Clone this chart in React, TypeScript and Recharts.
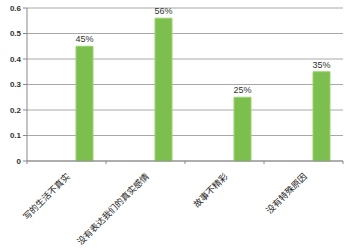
import React from 'react';
import { BarChart, Bar, XAxis, YAxis, CartesianGrid, LabelList } from 'recharts';

const categories = ['写的生活不真实', '没有表达我们的真实感情', '故事不精彩', '没有特殊原因'];
const values = [0.45, 0.56, 0.25, 0.35];
const yTicks = [0, 0.1, 0.2, 0.3, 0.4, 0.5, 0.6];

const data = categories.map((name, i) => ({ name, value: values[i] }));

const XTick = (props: any) => {
  const { x, y, payload, index, width } = props;
  const band = (typeof width === 'number' && width > 0 ? width : 316) / categories.length;
  const axisY = y - 5;
  const isLast = index === categories.length - 1;
  return (
    <g>
      <line x1={x - band / 2} x2={x - band / 2} y1={axisY} y2={axisY + 3} stroke="#888" />
      {isLast && <line x1={x + band / 2} x2={x + band / 2} y1={axisY} y2={axisY + 3} stroke="#888" />}
      <g transform={`translate(${x - 1},${y + 6})`}>
        <text
          x={0}
          y={0}
          dy={7}
          textAnchor="end"
          transform="rotate(-45)"
          fontSize={8.8}
          fontFamily="'Noto Sans CJK SC', sans-serif"
          fill="#222"
        >
          {payload.value}
        </text>
      </g>
    </g>
  );
};

export default function App() {
  return (
    <div style={{ position: 'absolute', left: 0, top: 0, width: 350, height: 250, background: '#fff' }}>
      <BarChart
        width={350}
        height={250}
        data={data}
        margin={{ top: 8, right: 7, left: 0, bottom: 0 }}
        barGap={1}
        barSize={17}
      >
        <CartesianGrid vertical={false} stroke="#a8a8a8" strokeWidth={1} />
        <XAxis
          dataKey="name"
          height={89}
          interval={0}
          tick={<XTick />}
          axisLine={{ stroke: '#888' }}
          tickLine={false}
          tickSize={3}
          scale="band"
        />
        <YAxis
          width={27}
          domain={[0, 0.6]}
          ticks={yTicks}
          interval={0}
          axisLine={{ stroke: '#888' }}
          tickLine={{ stroke: '#888' }}
          tickSize={4}
          tick={{ fontSize: 8, fontWeight: 'bold', fill: '#333', fontFamily: 'Arial, sans-serif' }}
          tickFormatter={(v: number) => String(v)}
        />
        <Bar dataKey="spacerA" isAnimationActive={false} fill="none" />
        <Bar dataKey="spacerB" isAnimationActive={false} fill="none" />
        <Bar dataKey="value" fill="#7dbf4f" stroke="#9bd36e" strokeWidth={1} isAnimationActive={false}>
          <LabelList
            dataKey="value"
            position="top"
            offset={4}
            formatter={(v: any) => `${Math.round(Number(v) * 100)}%`}
            style={{ fontSize: 9, fill: '#333', fontFamily: 'Arial, sans-serif' }}
          />
        </Bar>
      </BarChart>
    </div>
  );
}
